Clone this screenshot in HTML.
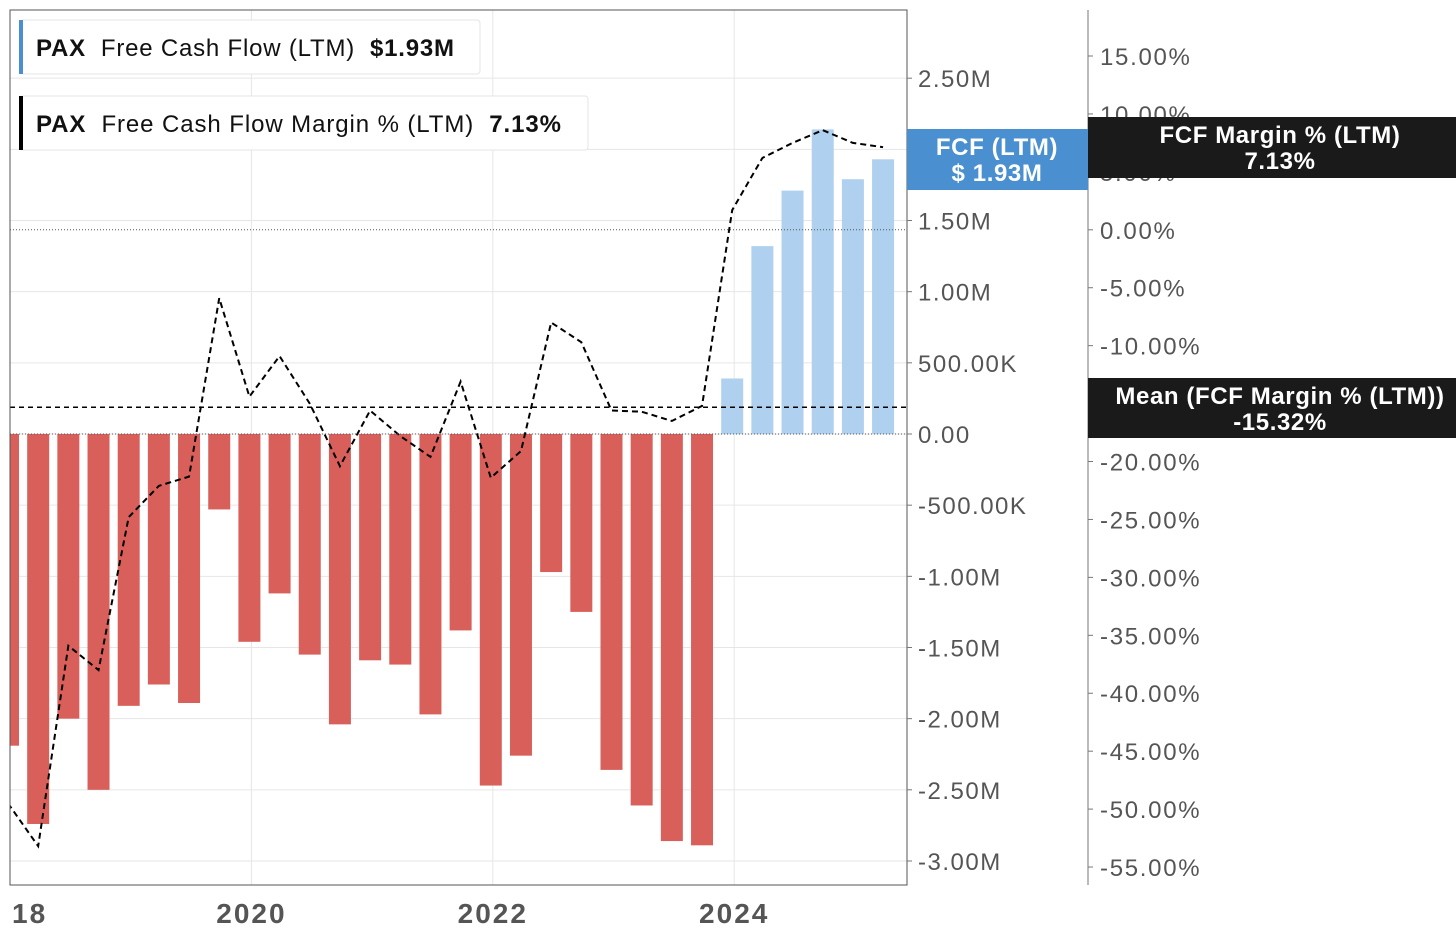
<!DOCTYPE html>
<html><head><meta charset="utf-8"><style>
body{margin:0;background:#fff;font-family:"Liberation Sans",sans-serif}
svg text{font-family:"Liberation Sans",sans-serif}
</style></head><body>
<svg id="c" width="1456" height="942" xmlns="http://www.w3.org/2000/svg"></svg>
<script>
const quarters=[];for(let i=0;i<30;i++)quarters.push(2018+i*0.25);
const fcfValues=[-2.19,-2.74,-2.00,-2.50,-1.91,-1.76,-1.89,-0.53,-1.46,-1.12,-1.55,-2.04,-1.59,-1.62,-1.97,-1.38,-2.47,-2.26,-0.97,-1.25,-2.36,-2.61,-2.86,-2.89,0.39,1.32,1.71,2.14,1.79,1.93];
const marginValues=[-49.5,-53.2,-35.9,-38.0,-24.8,-22.1,-21.3,-5.9,-14.4,-10.9,-15.0,-20.4,-15.6,-17.8,-19.6,-13.1,-21.4,-19.1,-8.0,-9.7,-15.6,-15.7,-16.5,-15.2,1.7,6.2,7.5,8.6,7.5,7.13];
const meanMargin=-15.32;
const leftTicks=[2.5,2,1.5,1,0.5,0,-0.5,-1,-1.5,-2,-2.5,-3];
const leftTickLabels=["2.50M","2.00M","1.50M","1.00M","500.00K","0.00","-500.00K","-1.00M","-1.50M","-2.00M","-2.50M","-3.00M"];
const rightTicks=[15,10,5,0,-5,-10,-15,-20,-25,-30,-35,-40,-45,-50,-55];
const xTicks=[2018,2020,2022,2024];
const xTickLabels=["18","2020","2022","2024"];

const NS="http://www.w3.org/2000/svg",svg=document.getElementById('c');
const X=d=>10+(d-2018)*120.7;
const XM=d=>8+(d-2018)*120.7;
const YL=v=>434-v*142.33;
const YR=v=>229.8-v*11.586;
function el(t,a,p){const e=document.createElementNS(NS,t);for(const k in a)e.setAttribute(k,a[k]);(p||svg).appendChild(e);return e;}
function tx(s,a,name){const e=el('text',a);e.textContent=s;return e;}
const defs=el('defs',{});const cp=el('clipPath',{id:'pc'},defs);el('rect',{x:10,y:10,width:897,height:875},cp);
leftTicks.forEach(v=>{const g=el('line',{x1:10,x2:907,y1:YL(v),y2:YL(v),stroke:'#e6e6e6','stroke-width':1});

});
xTicks.forEach(d=>{const g=el('line',{x1:X(d),x2:X(d),y1:10,y2:885,stroke:'#e6e6e6','stroke-width':1});

});
const gp=el('g',{'clip-path':'url(#pc)'});
fcfValues.forEach((v,i)=>{const y0=YL(0),y1=YL(v);const r=el('rect',{x:XM(quarters[i])-11,y:Math.min(y0,y1),width:22,height:Math.abs(y1-y0),fill:v<0?'#d9605a':'#afd0ee'},gp);

});
let d='';marginValues.forEach((v,i)=>{d+=(i?'L':'M')+XM(quarters[i])+','+YR(v);});
const ln=el('path',{d:d,fill:'none',stroke:'#000','stroke-width':2,'stroke-dasharray':'6,4'},gp);


const mn=el('line',{x1:10,x2:907,y1:YR(meanMargin),y2:YR(meanMargin),stroke:'#000','stroke-width':1.5,'stroke-dasharray':'5,4'});


[YL(0),YR(0)].forEach(y=>{const z=el('line',{x1:10,x2:907,y1:y,y2:y,stroke:'#555','stroke-width':1,'stroke-dasharray':'1,2'});

});
const fr=el('rect',{x:10,y:10,width:897,height:875,fill:'none',stroke:'#555','stroke-width':1});


const ra=el('line',{x1:1088,x2:1088,y1:10,y2:885,stroke:'#777','stroke-width':1});


leftTicks.forEach((v,i)=>{el('line',{x1:907,x2:912,y1:YL(v),y2:YL(v),stroke:'#777'});
tx(leftTickLabels[i],{x:918,y:YL(v)+9,'font-size':24,fill:'#555','letter-spacing':1.5},'left-tick-label');});
rightTicks.forEach(v=>{el('line',{x1:1088,x2:1093,y1:YR(v),y2:YR(v),stroke:'#777'});
tx(v.toFixed(2)+'%',{x:1100,y:YR(v)+9,'font-size':24,fill:'#555','letter-spacing':1.7},'right-tick-label');});
xTicks.forEach((d,i)=>{tx(xTickLabels[i],{x:i?X(d):12,y:923,'font-size':28,'font-weight':'bold',fill:'#555','text-anchor':i?'middle':'start','letter-spacing':2},'x-tick-label');});
function leg(y,w,col,a,b,c,name,tl){const g=el('g',{});
el('rect',{x:20,y:y,width:w,height:54,fill:'#fff',stroke:'#e4e4e4',rx:3},g);el('rect',{x:19,y:y,width:4,height:54,fill:col},g);
const t=el('text',{x:36,y:y+36,'font-size':24,fill:'#111',textLength:tl,lengthAdjust:'spacing'},g);
const s1=el('tspan',{'font-weight':'bold'},t);s1.textContent=a;const s2=el('tspan',{},t);s2.textContent='\u00a0 '+b+'\u00a0 ';const s3=el('tspan',{'font-weight':'bold'},t);s3.textContent=c;}
leg(20,460,'#4a8fd0','PAX','Free Cash Flow (LTM)','$1.93M','legend-fcf',418);
leg(96,568,'#000','PAX','Free Cash Flow Margin % (LTM)','7.13%','legend-fcf-margin',525);
function box(x,y,w,h,col,l1,l2,cx,name){const g=el('g',{});
el('rect',{x:x,y:y,width:w,height:h,fill:col},g);
[l1,l2].forEach((s,i)=>{const t=el('text',{x:cx,y:y+26+i*26,'font-size':24,'font-weight':'bold',fill:'#fff','text-anchor':'middle','letter-spacing':0.6},g);t.textContent=s;});}
box(907,129,181,61,'#4a8fd0','FCF (LTM)','$ 1.93M',997,'fcf-value-label');
box(1088,117,368,61,'#1a1a1a','FCF Margin % (LTM)','7.13%',1280,'fcf-margin-value-label');
box(1088,378,368,60,'#1a1a1a','Mean (FCF Margin % (LTM))','-15.32%',1280,'mean-value-label');
</script>
</body></html>
